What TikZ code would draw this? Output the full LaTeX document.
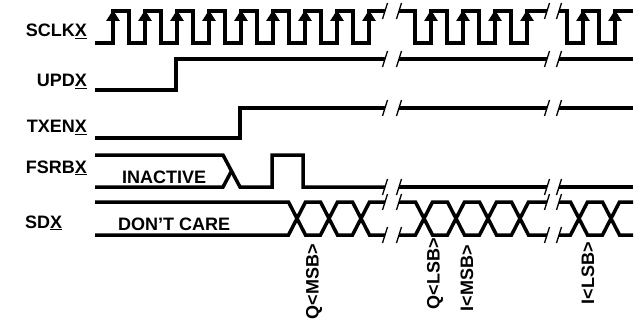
\documentclass[tikz,border=0pt]{standalone}
\usepackage{fontspec}
\setmainfont{Liberation Sans}
\usetikzlibrary{arrows.meta}
\tikzset{
  sig/.style={line width=3.5pt, line join=miter},
  brk/.style={line width=1.3pt},
  clkarr/.style={sig, -{Triangle[length=11pt, width=13pt]}},
  lbl/.style={font=\fontsize{18}{20}\selectfont\bfseries, inner sep=0pt},
  namelbl/.style={lbl, anchor=base east},
  bitlbl/.style={lbl, rotate=90, anchor=east}
}
\begin{document}
\begin{tikzpicture}[x=1pt, y=-1pt]
\useasboundingbox (0,0) rectangle (637,326);
\node[namelbl] (sclk) at (87,37) {SCLK\underline{X}};
\node[namelbl] (upd) at (87,87) {UPD\underline{X}};
\node[namelbl] (txen) at (87,133) {TXEN\underline{X}};
\node[namelbl] (fsrb) at (87,173) {FSRB\underline{X}};
\node[lbl, anchor=base west] (sd) at (25,228) {SD\underline{X}};
\node[lbl, anchor=base west] (inactive) at (122,183) {INACTIVE};
\node[lbl, anchor=base west] (dontcare) at (118,230) {DON'T CARE};
\node[bitlbl] (qmsb) at (314,244) {Q<MSB>};
\node[bitlbl] (qlsb) at (435,238) {Q<LSB>};
\node[bitlbl] (imsb) at (467,245) {I<MSB>};
\node[bitlbl] (ilsb) at (588,242) {I<LSB>};
% clock
\draw[sig] (95,43) \foreach \x in {113,145,...,337} { -- (\x,43) -- (\x,11) -- (\x+16,11) -- (\x+16,43) } -- (369,43) -- (369,11) -- (385,11);
\draw[sig] (399,11) \foreach \x in {415,447,479,511} { -- (\x,11) -- (\x,43) -- (\x+16,43) -- (\x+16,11) } -- (547,11);
\draw[sig] (559,11) \foreach \x in {567,599} { -- (\x,11) -- (\x,43) -- (\x+16,43) -- (\x+16,11) } -- (633,11);
\foreach \x in {113,145,...,369,431,463,495,527,583,615}
  \draw[clkarr] (\x,43) -- (\x,10);
% control lines
\draw[sig] (95,90) -- (176,90) -- (176,59) -- (385,59);
\draw[sig] (95,138) -- (240,138) -- (240,108) -- (385,108);
\draw[sig] (95,155) -- (223,155) -- (240,187) -- (272,187) -- (272,155) -- (303,155) -- (303,187) -- (385,187);
\draw[sig] (95,187) -- (223,187) -- (231.5,171);
\foreach \y in {59,108,187} {
  \draw[sig] (399,\y) -- (547,\y);
  \draw[sig] (559,\y) -- (633,\y);
}
% data
\foreach \a/\b in {95/297, 399/424, 559/579}
  \draw[sig] (\a,202) -- (\b-8.5,202) -- (\b,218.5) -- (\b-8.5,235) -- (\a,235);
\foreach \a/\b in {297/329, 329/361, 424/456, 456/488, 488/520, 579/611}
  \draw[sig] (\a,218.5) -- (\a+8.5,202) -- (\b-8.5,202) -- (\b,218.5) -- (\b-8.5,235) -- (\a+8.5,235) -- cycle;
\foreach \a/\b in {361/385, 520/547, 611/633}
  \draw[sig] (\b,202) -- (\a+8.5,202) -- (\a,218.5) -- (\a+8.5,235) -- (\b,235);
% breaks
\foreach \y in {11,59,108,187,202,235}
  \foreach \bx in {385,399,547,559}
    \draw[brk] (\bx-2.5,\y+8) -- (\bx+2.5,\y-8);
\end{tikzpicture}
\end{document}
